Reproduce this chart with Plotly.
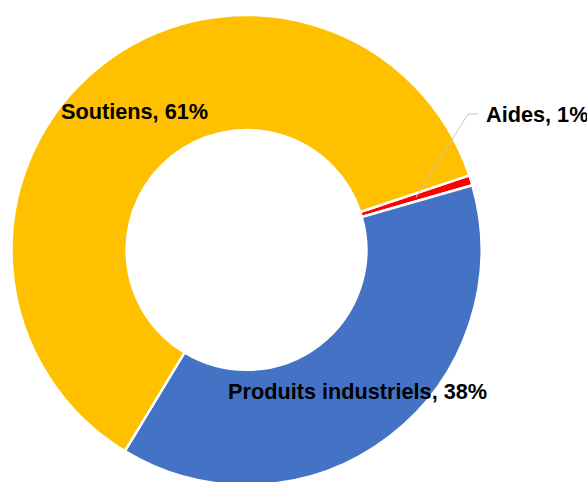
import math
import plotly.graph_objects as go

# Data (order as drawn clockwise, starting at the Aides slice)
labels = ["Aides", "Produits industriels", "Soutiens"]
values = [0.7, 38.1, 61.2]
colors = ["#FF0000", "#4472C4", "#FFC000"]

W, H = 587, 486
cx, cy, R = 246.5, 250, 235
hole = 0.51
rotation = 71.5

fig = go.Figure(go.Pie(
    labels=labels,
    values=values,
    sort=False,
    direction="clockwise",
    rotation=rotation,
    hole=hole,
    marker=dict(colors=colors, line=dict(color="white", width=2.5)),
    textinfo="none",
    hoverinfo="label+percent",
    showlegend=False,
    domain=dict(x=[(cx - R) / W, (cx + R) / W],
                y=[1 - (cy + R) / H, 1 - (cy - R) / H]),
))

total = sum(values)
pct = {l: v / total * 100 for l, v in zip(labels, values)}

def px2paper(x, y):
    return x / W, 1 - y / H

font = dict(family="Liberation Sans", size=21.7, color="black")
ann = []
x, y = px2paper(134, 111.5)
ann.append(dict(x=x, y=y, xref="paper", yref="paper", showarrow=False,
                text=f"<b>Soutiens, {pct['Soutiens']:.0f}%</b>", font=font,
                xanchor="center", yanchor="middle"))
x, y = px2paper(357, 391.5)
ann.append(dict(x=x, y=y, xref="paper", yref="paper", showarrow=False,
                text=f"<b>Produits industriels, {pct['Produits industriels']:.0f}%</b>", font=font,
                xanchor="center", yanchor="middle"))
x, y = px2paper(484, 115)
ann.append(dict(x=x, y=y, xref="paper", yref="paper", showarrow=False,
                text=f"<b>Aides, {pct['Aides']:.0f}%</b>", font=font,
                xanchor="left", yanchor="middle"))

# leader line from the middle of the Aides slice
mid_angle = math.radians(rotation + values[0] / total * 360 / 2)
rm = R * (1 + hole) / 2
sx, sy = cx + rm * math.sin(mid_angle), cy - rm * math.cos(mid_angle)
p0 = px2paper(sx, sy)
p1 = px2paper(468, 114)
p2 = px2paper(478, 114)
path = f"M {p0[0]},{p0[1]} L {p1[0]},{p1[1]} L {p2[0]},{p2[1]}"

fig.update_layout(
    width=W, height=H,
    margin=dict(l=0, r=0, t=0, b=0),
    paper_bgcolor="white",
    plot_bgcolor="white",
    annotations=ann,
    shapes=[dict(type="path", path=path, xref="paper", yref="paper",
                 line=dict(color="#C8C8C8", width=1))],
)

fig.write_html(
    "out.html",
    config={"displayModeBar": False},
    post_script=(
        "document.body.style.margin='0';"
        "document.body.style.overflow='hidden';"
        "document.documentElement.style.overflow='hidden';"
    ),
)
